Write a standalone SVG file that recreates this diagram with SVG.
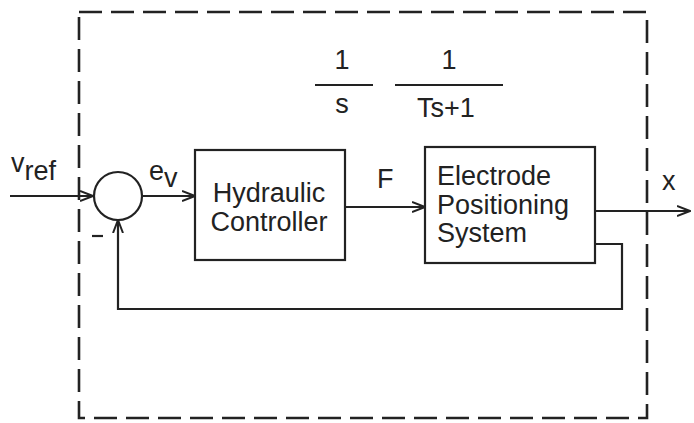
<svg xmlns="http://www.w3.org/2000/svg" width="694" height="423" viewBox="0 0 694 423">
<style>
text{font-family:"Liberation Sans",Arial,sans-serif;fill:#222;}
.t{font-size:27px;}
.box{fill:none;stroke:#222;stroke-width:2.2;}
.ln{fill:none;stroke:#222;stroke-width:2.2;}
.dash{fill:none;stroke:#222;stroke-width:2.6;stroke-dasharray:23 9;}
</style>
<defs>
<marker id="arr" viewBox="0 0 14 12" refX="13" refY="6" markerWidth="14" markerHeight="12" markerUnits="userSpaceOnUse" orient="auto">
<path d="M0,1 L13,6 L0,11" fill="none" stroke="#222" stroke-width="2"/>
</marker>
</defs>
<rect class="dash" x="79" y="12" width="568" height="406"/>
<g id="sum">
<circle cx="118" cy="196" r="24" class="box"/>
<line class="ln" x1="92" y1="236" x2="103" y2="236"/>
</g>
<g id="hydraulic">
<rect class="box" x="195" y="150" width="150" height="110"/>
<text class="t" x="269" y="202" text-anchor="middle">Hydraulic</text>
<text class="t" x="269" y="231" text-anchor="middle">Controller</text>
</g>
<g id="electrode">
<rect class="box" x="425" y="147" width="170" height="116"/>
<text class="t" x="437" y="185">Electrode</text>
<text class="t" x="437" y="214">Positioning</text>
<text class="t" x="437" y="242">System</text>
</g>
<g id="tf">
<text class="t" x="342" y="69" text-anchor="middle">1</text>
<line class="ln" x1="315" y1="85" x2="373" y2="85"/>
<text class="t" x="342" y="113" text-anchor="middle">s</text>
<text class="t" x="449" y="69" text-anchor="middle">1</text>
<line class="ln" x1="395" y1="85" x2="503" y2="85"/>
<text class="t" x="446" y="117" text-anchor="middle">Ts+1</text>
</g>
<g id="connectors">
<line class="ln" x1="10" y1="196" x2="93" y2="196" marker-end="url(#arr)"/>
<line class="ln" x1="142" y1="196" x2="195" y2="196" marker-end="url(#arr)"/>
<line class="ln" x1="345" y1="207" x2="425" y2="207" marker-end="url(#arr)"/>
<line class="ln" x1="595" y1="211" x2="690" y2="211" marker-end="url(#arr)"/>
<polyline class="ln" points="595,244 622,244 622,309 118,309 118,220" marker-end="url(#arr)"/>
</g>
<g id="labels">
<text class="t" x="11" y="172">v<tspan dy="8">ref</tspan></text>
<text class="t" x="149" y="180">e<tspan dy="7">v</tspan></text>
<text class="t" x="377" y="188">F</text>
<text class="t" x="662" y="190">x</text>
</g>
</svg>
